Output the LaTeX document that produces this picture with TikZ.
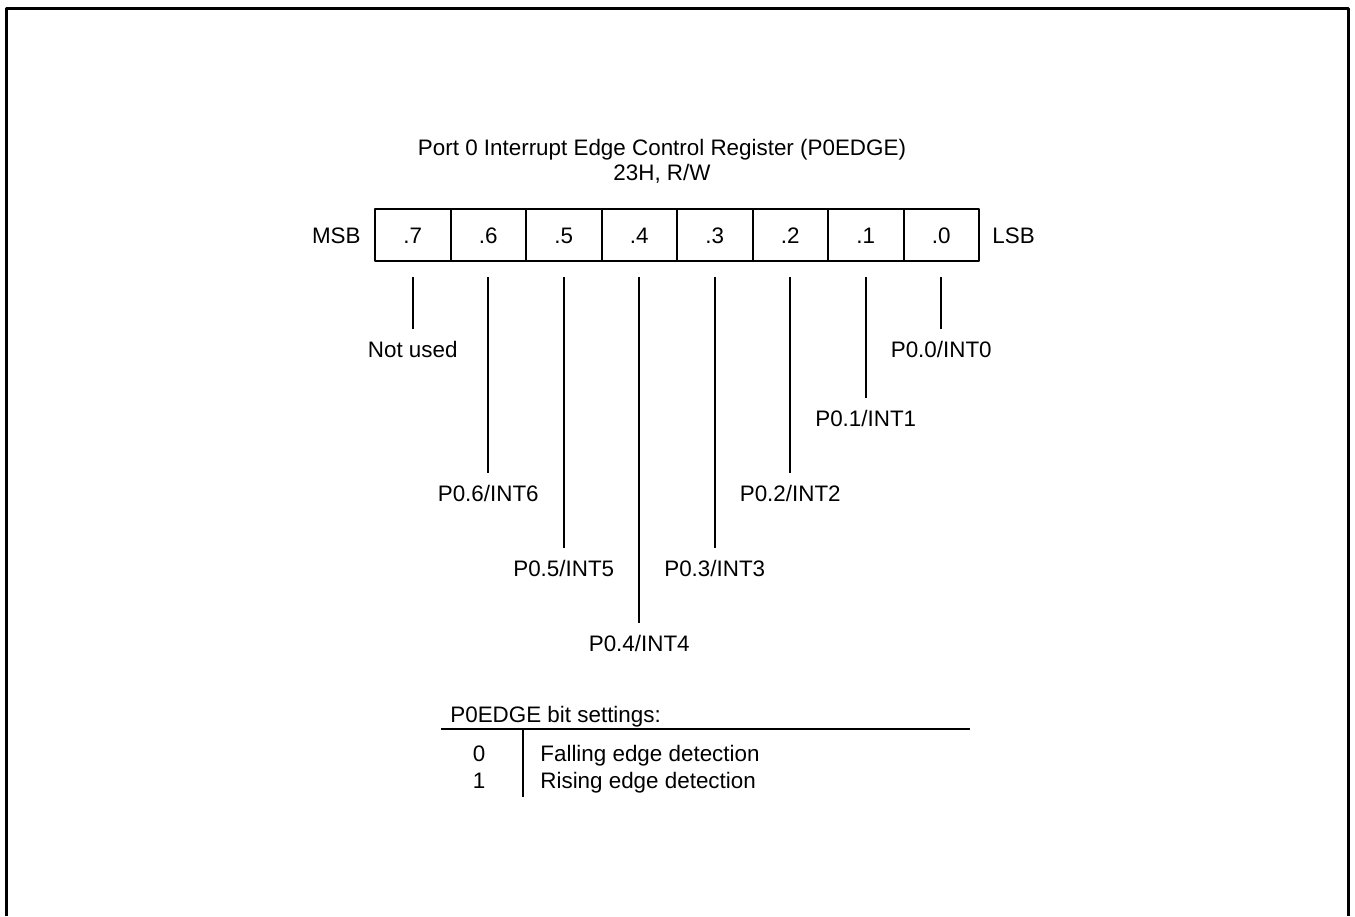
\documentclass[tikz,border=0pt]{standalone}
\usepackage{fontspec}
\setmainfont{Liberation Sans}
\usetikzlibrary{positioning}
\begin{document}
\begin{tikzpicture}[x=.5pt,y=-.5pt,font=\fontsize{11.2}{13.4}\selectfont,line join=round,
	txt/.style={inner sep=0pt,text height=8pt,text depth=0pt},
	bitcell/.style={draw,line width=1pt,minimum width=37.75pt,minimum height=26pt,inner sep=0pt,outer sep=0pt,text height=8pt,text depth=0pt},
	lead/.style={line width=.9pt,shorten <=8pt,shorten >=6pt}]
	\useasboundingbox (0,0) rectangle (1355,916);
	\draw[line width=1.5pt] (6.5,916) -- (6.5,8.5) -- (1348.5,8.5) -- (1348.5,916);
	\node[txt,anchor=base] (title) at (662,155) {Port 0 Interrupt Edge Control Register (P0EDGE)};
	\node[txt,anchor=base] (addr) at (662,180) {23H, R/W};
	\foreach \b [count=\i] in {7,...,0}
		\node[bitcell] (b\b) at ({375+75.5*(\i-.5)},235) {.\b};
	\node[txt,left=7pt of b7] (msb) {MSB};
	\node[txt,right=6.5pt of b0] (lsb) {LSB};
	\node[txt,anchor=north] (l7) at (412.75,341) {Not used};
	\draw[lead] (b7) -- (l7);
	\foreach \b/\e in {6/473,5/548,4/623,3/548,2/473,1/398,0/329}{
		\node[txt,anchor=north] (l\b) at ({375+75.5*(7.5-\b)},{\e+12}) {P0.\b/INT\b};
		\draw[lead] (b\b) -- (l\b);
	}
	\node[txt,anchor=base west] (sethead) at (450,722) {P0EDGE bit settings:};
	\coordinate (rulel) at (441,729);
	\coordinate (ruler) at (970,729);
	\coordinate (colt) at (523,729);
	\coordinate (colb) at (523,797);
	\draw[line width=.9pt] (rulel) -- (ruler) (colt) -- (colb);
	\node[txt,anchor=base] (v0) at (479,761) {0};
	\node[txt,anchor=base] (v1) at (479,788) {1};
	\node[txt,anchor=base west] (d0) at (540,761) {Falling edge detection};
	\node[txt,anchor=base west] (d1) at (540,788) {Rising edge detection};
\end{tikzpicture}
\end{document}
